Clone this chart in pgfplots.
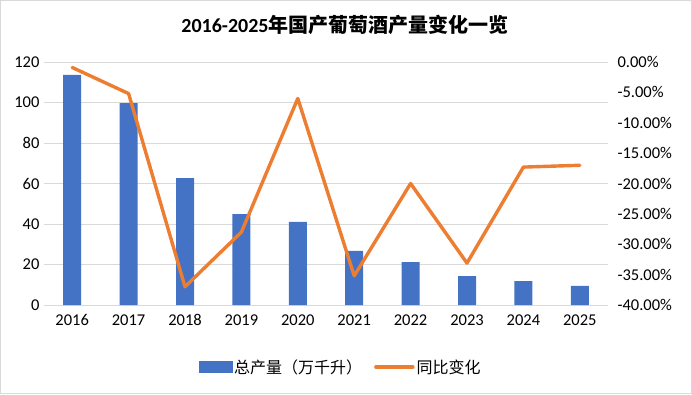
\documentclass[border=0pt]{standalone}
\usepackage{pgfplots}
\pgfplotsset{compat=1.18}
\usepackage{fontspec}
\setmainfont{Carlito}
\newfontfamily\cjk{Noto Sans CJK SC}
\definecolor{barblue}{HTML}{4472C4}
\definecolor{lineor}{HTML}{ED7D31}
\definecolor{gridg}{HTML}{D9D9D9}
\begin{document}
\begin{tikzpicture}
\draw[gridg, line width=0.8pt] (0.4pt,0.4pt) rectangle (691.6pt,393.6pt);
\node[font=\fontsize{20}{24}\selectfont\bfseries] at (345pt,369pt) {2016-2025{\cjk\bfseries 年国产葡萄酒产量变化一览}};
\begin{axis}[at={(44pt,89pt)}, anchor=south west, scale only axis,
  width=564pt, height=243pt,
  xmin=-0.5, xmax=9.5, ymin=0, ymax=120,
  ytick={0,20,...,120},
  xtick={0,...,9}, xticklabels={2016,2017,2018,2019,2020,2021,2022,2023,2024,2025},
  axis x line*=bottom, axis y line*=left,
  y axis line style={draw=none},
  x axis line style={gridg, line width=0.8pt, -},
  ymajorgrids, grid style={gridg, line width=0.8pt},
  major tick length=0pt,
  tick label style={font=\fontsize{16.5}{19}\selectfont},
  /pgf/number format/assume math mode=true,
  yticklabel style={xshift=-1pt},
  xticklabel style={yshift=-6pt},
  ybar, bar width=18pt, bar shift=0pt,
]
\addplot[fill=barblue, draw=none] coordinates {
(0,113.6) (1,99.7) (2,62.7) (3,44.9) (4,41.0) (5,26.7) (6,21.2) (7,14.3) (8,11.8) (9,9.4)};
\end{axis}
\begin{axis}[at={(44pt,89pt)}, anchor=south west, scale only axis,
  width=564pt, height=243pt,
  xmin=-0.5, xmax=9.5, ymin=-40, ymax=0,
  axis y line*=right, axis x line=none,
  y axis line style={draw=none},
  ytick={-40,-35,...,0},
  major tick length=0pt,
  tick label style={font=\fontsize{16.5}{19}\selectfont},
  /pgf/number format/assume math mode=true,
  yticklabel={\pgfmathprintnumber[fixed,fixed zerofill,precision=2]{\tick}\%},
  yticklabel style={xshift=6pt},
  legend style={at={(axis description cs:0.526,-0.255)}, anchor=center, draw=none,
    legend columns=2, font=\cjk\fontsize{16}{19}\selectfont,
    /tikz/every even column/.append style={column sep=10pt}},
]
\addlegendimage{legend image code/.code={\fill[barblue] (0pt,-5.5pt) rectangle (33pt,5.5pt);}}
\addlegendentry{总产量（万千升）}
\addplot[lineor, line width=3.4pt, line join=round, line cap=round,
  legend image code/.code={\draw[lineor, line width=3.4pt, line cap=round] (0pt,0pt) -- (37pt,0pt);}]
coordinates {(0,-0.9) (1,-5.2) (2,-37.0) (3,-28.0) (4,-6.0) (5,-35.2) (6,-20.0) (7,-33.1) (8,-17.3) (9,-17.0)};
\addlegendentry{同比变化}
\end{axis}
\end{tikzpicture}
\end{document}
